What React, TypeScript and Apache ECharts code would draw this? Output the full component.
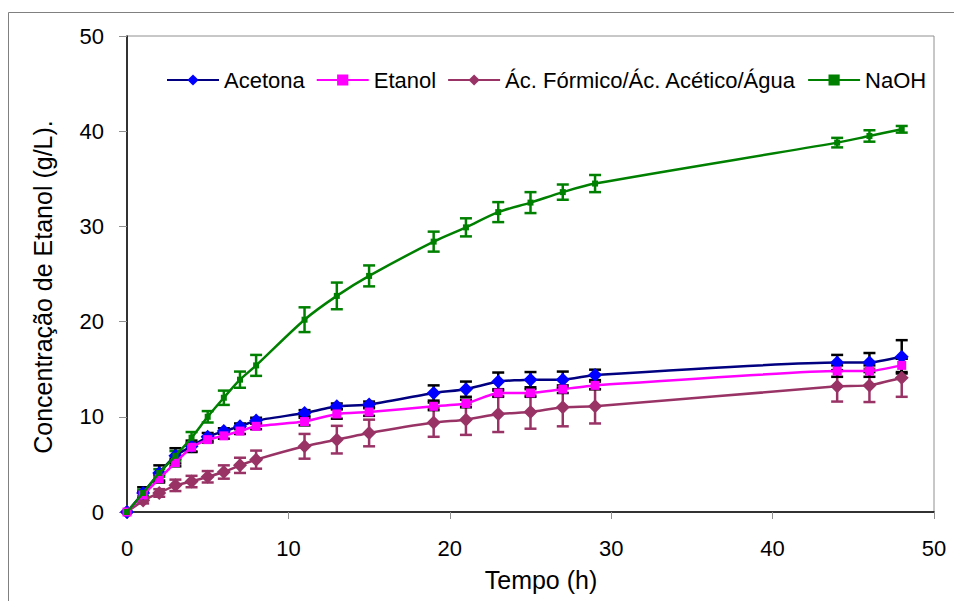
import React, { useEffect, useRef } from "react";
import * as echarts from "echarts";

const time = [0, 1, 2, 3, 4, 5, 6, 7, 8, 11, 13, 15, 19, 21, 23, 25, 27, 29, 44, 46, 48];

const acetona = [0, 2.0, 4.1, 5.9, 6.9, 7.9, 8.5, 9.0, 9.6, 10.4, 11.1, 11.3, 12.5, 12.9, 13.7, 13.9, 13.9, 14.4, 15.7, 15.7, 16.3];
const acetonaErr = [0, 0.6, 0.8, 0.8, 0.6, 0.4, 0.3, 0.3, 0.3, 0.3, 0.3, 0.3, 0.8, 0.8, 0.95, 0.8, 0.85, 0.55, 0.8, 1.0, 1.75];

const etanol = [0, 1.8, 3.5, 5.2, 6.8, 7.6, 8.0, 8.5, 9.0, 9.5, 10.3, 10.5, 11.1, 11.4, 12.5, 12.5, 12.9, 13.3, 14.8, 14.8, 15.4];
const etanolErr = [0, 0.4, 0.4, 0.4, 0.45, 0.3, 0.3, 0.3, 0.3, 0.4, 0.5, 0.4, 0.4, 0.4, 0.4, 0.4, 0.4, 0.4, 0.6, 0.6, 0.7];

const formico = [0, 1.2, 2.0, 2.8, 3.2, 3.7, 4.2, 4.9, 5.5, 6.9, 7.6, 8.3, 9.4, 9.7, 10.3, 10.5, 11.0, 11.1, 13.2, 13.3, 14.1];
const formicoErr = [0, 0.3, 0.4, 0.6, 0.6, 0.6, 0.7, 0.8, 0.95, 1.3, 1.45, 1.4, 1.5, 1.6, 1.9, 1.75, 2.0, 1.8, 1.6, 1.75, 2.0];

const naoh = [0, 2.0, 4.1, 5.9, 7.8, 10.0, 12.0, 13.9, 15.4, 20.2, 22.7, 24.8, 28.4, 29.9, 31.5, 32.5, 33.6, 34.5, 38.8, 39.5, 40.2];
const naohErr = [0, 0.35, 0.4, 0.5, 0.6, 0.6, 0.75, 0.85, 1.1, 1.3, 1.4, 1.1, 1.05, 0.95, 1.05, 1.1, 0.8, 0.9, 0.5, 0.6, 0.35];

const seriesNames = ["Acetona", "Etanol", "Ác. Fórmico/Ác. Acético/Água", "NaOH"];
const xTitle = "Tempo (h)";
const yTitle = "Concentração de Etanol (g/L).";

const FONT = "'Liberation Sans', Arial, sans-serif";

function pairs(ys: number[]) {
  return time.map((t, i) => [t, ys[i]]);
}
function errTriples(ys: number[], es: number[]) {
  return time.map((t, i) => [t, ys[i], es[i]]);
}

function errorSeries(ys: number[], es: number[], color: string) {
  return {
    type: "custom",
    silent: true,
    z: 1,
    data: errTriples(ys, es),
    renderItem: (params: any, api: any) => {
      const x = api.value(0);
      const y = api.value(1);
      const e = api.value(2);
      if (!e) return null;
      const top = api.coord([x, y + e]);
      const bot = api.coord([x, y - e]);
      const hw = 6;
      const style = { stroke: color, lineWidth: 2.5 };
      return {
        type: "group",
        children: [
          { type: "line", shape: { x1: top[0], y1: top[1], x2: bot[0], y2: bot[1] }, style },
          { type: "line", shape: { x1: top[0] - hw, y1: top[1], x2: top[0] + hw, y2: top[1] }, style },
          { type: "line", shape: { x1: bot[0] - hw, y1: bot[1], x2: bot[0] + hw, y2: bot[1] }, style },
        ],
      };
    },
  };
}

export default function App() {
  const ref = useRef<HTMLDivElement>(null);
  useEffect(() => {
    if (!ref.current) return;
    const chart = echarts.init(ref.current, undefined, { renderer: "svg" });
    chart.setOption({
      animation: false,
      backgroundColor: "#ffffff",
      textStyle: { fontFamily: FONT },
      graphic: [
        {
          type: "rect",
          shape: { x: 8.5, y: 12.5, width: 960, height: 620 },
          style: { fill: "none", stroke: "#808080", lineWidth: 1 },
          silent: true,
        },
        {
          type: "text",
          x: 43,
          y: 287,
          rotation: Math.PI / 2,
          style: {
            text: yTitle,
            fontSize: 25,
            fontFamily: FONT,
            fill: "#000",
            align: "center",
            verticalAlign: "middle",
          },
          silent: true,
        },
        {
          type: "text",
          x: 541,
          y: 580,
          style: {
            text: xTitle,
            fontSize: 25,
            fontFamily: FONT,
            fill: "#000",
            align: "center",
            verticalAlign: "middle",
          },
          silent: true,
        },
      ],
      grid: {
        left: 127,
        top: 36,
        right: 20,
        bottom: 89,
        show: true,
        borderColor: "#909090",
        borderWidth: 1,
      },
      legend: {
        data: seriesNames,
        top: 64,
        left: 161,
        itemWidth: 52,
        itemHeight: 14,
        itemGap: 11,
        textStyle: { fontSize: 22, color: "#000", fontFamily: FONT },
      },
      xAxis: {
        type: "value",
        min: 0,
        max: 50,
        interval: 10,
        axisLine: { show: true, lineStyle: { color: "#000", width: 1.5 } },
        axisTick: { show: true, inside: false, length: 7, lineStyle: { color: "#909090" } },
        axisLabel: { fontSize: 22, color: "#000", margin: 25, fontFamily: FONT },
        splitLine: { show: false },
      },
      yAxis: {
        type: "value",
        min: 0,
        max: 50,
        interval: 10,
        axisLine: { show: true, lineStyle: { color: "#000", width: 1.5 } },
        axisTick: { show: true, inside: false, length: 8, lineStyle: { color: "#909090" } },
        axisLabel: { fontSize: 22, color: "#000", margin: 23, fontFamily: FONT },
        splitLine: { show: false },
      },
      series: [
        errorSeries(formico, formicoErr, "#993366"),
        errorSeries(acetona, acetonaErr, "#000000"),
        errorSeries(etanol, etanolErr, "#000000"),
        errorSeries(naoh, naohErr, "#008000"),
        {
          name: seriesNames[2],
          type: "line",
          z: 2,
          data: pairs(formico),
          smooth: 0.15,
          symbol: "diamond",
          symbolSize: 14,
          lineStyle: { color: "#993366", width: 2.5 },
          itemStyle: { color: "#993366" },
        },
        {
          name: seriesNames[0],
          type: "line",
          z: 3,
          data: pairs(acetona),
          smooth: 0.15,
          symbol: "diamond",
          symbolSize: 14,
          lineStyle: { color: "#000080", width: 2.5 },
          itemStyle: { color: "#0000ff" },
        },
        {
          name: seriesNames[1],
          type: "line",
          z: 4,
          data: pairs(etanol),
          smooth: 0.15,
          symbol: "rect",
          symbolSize: 9,
          lineStyle: { color: "#ff00ff", width: 2.5 },
          itemStyle: { color: "#ff00ff" },
        },
        {
          name: seriesNames[3],
          type: "line",
          z: 5,
          data: pairs(naoh),
          smooth: 0.3,
          symbol: "rect",
          symbolSize: 6,
          lineStyle: { color: "#008000", width: 2.5 },
          itemStyle: { color: "#008000" },
        },
      ],
    });
    return () => chart.dispose();
  }, []);
  return (
    <div
      ref={ref}
      style={{ position: "fixed", left: 0, top: 0, width: 954, height: 601 }}
    />
  );
}
